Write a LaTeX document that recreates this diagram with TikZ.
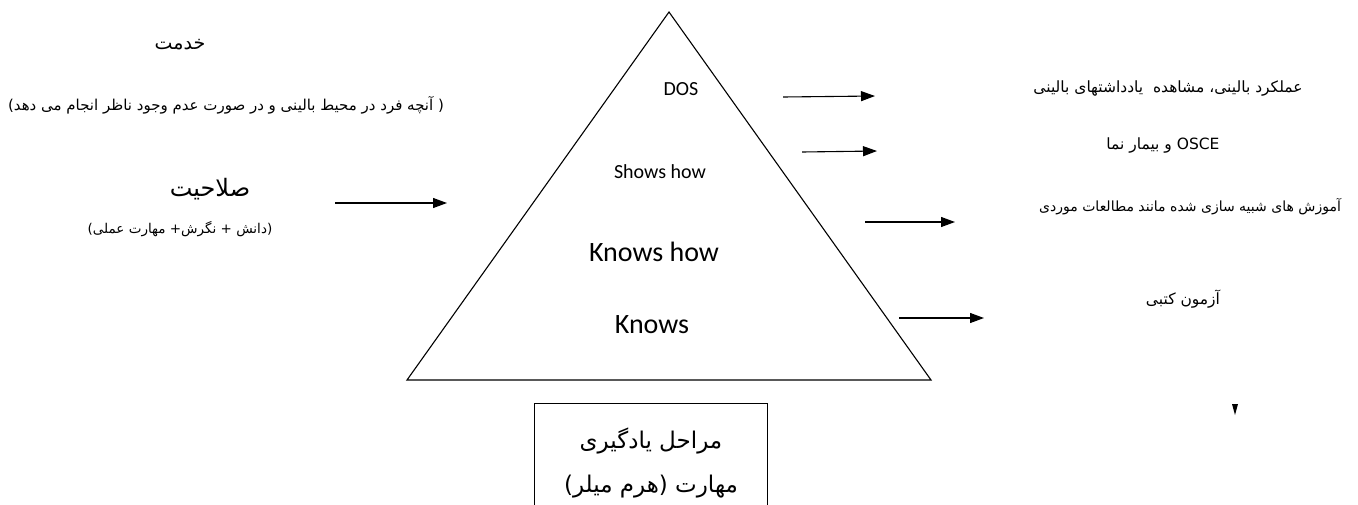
\documentclass[tikz,border=0pt]{standalone}
\usepackage{fontspec}
\setmainfont{Carlito}
\newfontfamily\arabicfont[Script=Arabic]{DejaVu Sans}
\TeXXeTstate=1
\usetikzlibrary{arrows.meta, positioning}
\newcommand{\fa}[1]{{\arabicfont\beginR #1\endR}}

\begin{document}
\begin{tikzpicture}[x=1pt, y=-1pt,
        lvl/.style={inner sep=0pt, font=\fontsize{20}{24}\selectfont},
        biglvl/.style={lvl, font=\fontsize{28}{32}\selectfont},
        fatitle/.style={inner sep=0pt, font=\fontsize{19}{23}\selectfont},
        fanote/.style={inner sep=0pt, font=\fontsize{15}{18}\selectfont},
        faside/.style={inner sep=0pt, font=\fontsize{15.5}{18}\selectfont},
        arrow/.style={-{Triangle[length=14pt, width=10pt]}, line width=1.1pt, black}
      ]
        \useasboundingbox (0,0) rectangle (1358,504);
        \clip (0,0) rectangle (1358,504);

        % Pyramid
        \coordinate (apex) at (669,12);
        \coordinate (baseL) at (407,380);
        \coordinate (baseR) at (931,380);
        \draw[line width=1.1pt, line join=miter] (apex) -- (baseL) -- (baseR) -- cycle;
        \node[lvl] (does) at (681,89) {DOS};
        \node[lvl] (shows) at (660,172) {Shows how};
        \node[biglvl] (knowshow) at (654,252) {Knows how};
        \node[biglvl] (knows) at (652,325) {Knows};

        % Left side
        \node[fatitle] (service) at (180,45) {\fa{خدمت}};
        \node[fanote] (servicenote) at (226,105) {\fa{( آنچه فرد در محیط بالینی و در صورت عدم وجود ناظر انجام می دهد)}};
        \node[fatitle, font=\fontsize{24}{28}\selectfont] (competence) at (210,189) {\fa{صلاحیت}};
        \node[fanote, font=\fontsize{13.5}{16}\selectfont, below=29pt of competence.south, anchor=center, xshift=-30pt] (competencenote) {\fa{(دانش + نگرش+ مهارت عملی)}};
        \coordinate (inA) at (335,203);
        \coordinate (inB) at (447,203);
        \draw[arrow] (inA) -- (inB);

        % Right side
        \node[faside] (clinical) at (1168,88) {\fa{عملکرد بالینی، مشاهده\ \ یادداشتهای بالینی}};
        \node[faside] (osce) at (1163,145) {\fa{\beginL OSCE\endL\ و بیمار نما}};
        \node[faside, font=\fontsize{14}{17}\selectfont] (simulation) at (1190,207) {\fa{آموزش های شبیه سازی شده مانند مطالعات موردی}};
        \node[faside] (written) at (1183,299) {\fa{آزمون کتبی}};
        \coordinate (doesA) at (783,97);   \coordinate (doesB) at (875,96);
        \coordinate (showsA) at (802,152); \coordinate (showsB) at (877,151);
        \coordinate (khA) at (865,222);    \coordinate (khB) at (955,222);
        \coordinate (knA) at (899,318);    \coordinate (knB) at (984,318);
        \draw[arrow] (doesA) -- (doesB);
        \draw[arrow] (showsA) -- (showsB);
        \draw[arrow] (khA) -- (khB);
        \draw[arrow] (knA) -- (knB);
        \fill (1232,404) -- (1238,404) -- (1235,415) -- cycle;

        % Caption box
        \node[draw, line width=1.1pt, anchor=north, minimum width=233pt, minimum height=118pt,
              align=center, font=\fontsize{23}{44}\selectfont] (stages) at (651,403)
              {\fa{مراحل یادگیری}\\ \fa{مهارت (هرم میلر)}};
      \end{tikzpicture}
\end{document}
